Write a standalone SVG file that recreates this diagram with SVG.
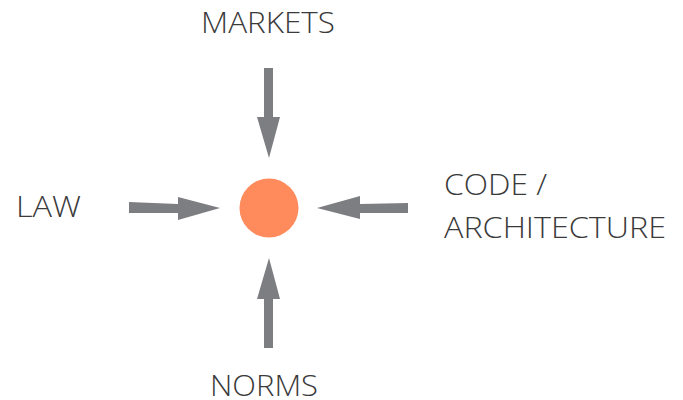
<svg xmlns="http://www.w3.org/2000/svg" width="683" height="400" viewBox="0 0 683 400">
<style>
.lbl{font-family:"Open Sans","Noto Sans",sans-serif;font-size:30px;font-weight:300;fill:#3a3a3a}
.arr{fill:#7d7e82}
</style>
<rect width="683" height="400" fill="#ffffff"/>
<g id="center"><circle cx="269" cy="208" r="29.5" fill="#ff8a5c"/></g>
<g id="markets"><text class="lbl" x="201" y="33" textLength="134" lengthAdjust="spacingAndGlyphs">MARKETS</text></g>
<g id="law"><text class="lbl" x="16" y="217" textLength="65" lengthAdjust="spacingAndGlyphs">LAW</text></g>
<g id="code"><text class="lbl" x="444" y="195" textLength="103" lengthAdjust="spacingAndGlyphs">CODE /</text><text class="lbl" x="444" y="238" textLength="222" lengthAdjust="spacingAndGlyphs">ARCHITECTURE</text></g>
<g id="norms"><text class="lbl" x="210" y="396" textLength="108" lengthAdjust="spacingAndGlyphs">NORMS</text></g>
<g id="connectors">
<polygon class="arr" points="129,202 178,204 178,197 220,208 178,220 178,213 129,213"/>
<polygon class="arr" points="264,68 273,68 273,117 280,117 269,158 257,117 264,117"/>
<polygon class="arr" points="408,203 360,204 360,196 317,208 360,219 360,213 408,213"/>
<polygon class="arr" points="264,348 273,348 273,299 280,299 269,258 257,299 264,299"/>
</g>
</svg>
